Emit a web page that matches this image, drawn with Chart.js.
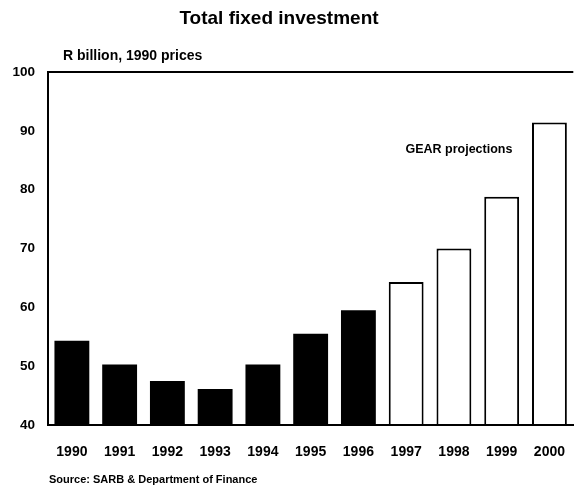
<!DOCTYPE html>
<html lang="en">
<head>
  <meta charset="UTF-8"/>
  <title>Total fixed investment</title>
  <script src="https://cdn.jsdelivr.net/npm/chart.js"></script>
  <style>
    *{margin:0;padding:0}
    body{background:#fff;width:576px;height:489px;overflow:hidden}
    canvas{display:block}
  </style>
</head>
<body>
  <canvas id="chart" width="576" height="489"></canvas>
  <script>
    // Total fixed investment, R billion at 1990 prices
    const years = ['1990','1991','1992','1993','1994','1995','1996','1997','1998','1999','2000'];
    const investment = [54.3, 50.3, 47.5, 46.1, 50.3, 55.5, 59.5, 64.3, 70.0, 78.8, 91.4];
    const projected = [false, false, false, false, false, false, false, true, true, true, true];
    const yTicks = [40, 50, 60, 70, 80, 90, 100];

    const FONT = "'Liberation Sans', Arial, sans-serif";

    // titles, unit label, source line and the projection note
    const textPlugin = {
      id: 'texts',
      afterDraw(chart){
        const c = chart.ctx, x = chart.scales.x, y = chart.scales.y;
        c.save();
        c.fillStyle = '#000';
        c.textBaseline = 'middle';
        c.textAlign = 'center';
        c.font = 'bold 19px ' + FONT;
        c.fillText('Total fixed investment', 279, 19);
        c.textAlign = 'left';
        c.font = 'bold 14px ' + FONT;
        c.fillText('R billion, 1990 prices', 63, 56);
        c.font = 'bold 11px ' + FONT;
        c.fillText('Source: SARB & Department of Finance', 49, 480);
        c.textAlign = 'center';
        c.font = 'bold 12.5px ' + FONT;
        c.fillText('GEAR projections', x.getPixelForValue(8) + 5, y.getPixelForValue(86.9));
        c.restore();
      }
    };

    new Chart(document.getElementById('chart'), {
      type: 'bar',
      data: {
        labels: years,
        datasets: [{
          data: investment,
          backgroundColor: projected.map(p => p ? '#fff' : '#000'),
          borderColor: '#000',
          borderWidth: projected.map(p => p ? 2 : 0),
          borderSkipped: 'bottom',
          base: 40,
          barPercentage: 0.73,
          categoryPercentage: 1
        }]
      },
      options: {
        responsive: false,
        animation: false,
        layout: {padding: {top: 72, right: 0, bottom: 0, left: 0}},
        plugins: {legend: {display: false}, tooltip: {enabled: false}},
        scales: {
          x: {
            grid: {display: false},
            border: {color: '#000', width: 2},
            ticks: {color: '#000', font: {family: FONT, size: 14, weight: 'bold'}, padding: 11, maxRotation: 0},
            afterFit(s){ s.height = 64; }
          },
          y: {
            min: 40, max: 100,
            afterBuildTicks(s){ s.ticks = yTicks.map(v => ({value: v})); },
            grid: {
              drawTicks: false,
              color: ctx => ctx.tick && ctx.tick.value === 100 ? '#000' : 'rgba(0,0,0,0)',
              lineWidth: 2
            },
            border: {color: '#000', width: 2},
            ticks: {color: '#000', font: {family: FONT, size: 13.5, weight: 'bold'}, padding: 13},
            afterFit(s){ s.width = 48; }
          }
        }
      },
      plugins: [textPlugin]
    });
  </script>
</body>
</html>
